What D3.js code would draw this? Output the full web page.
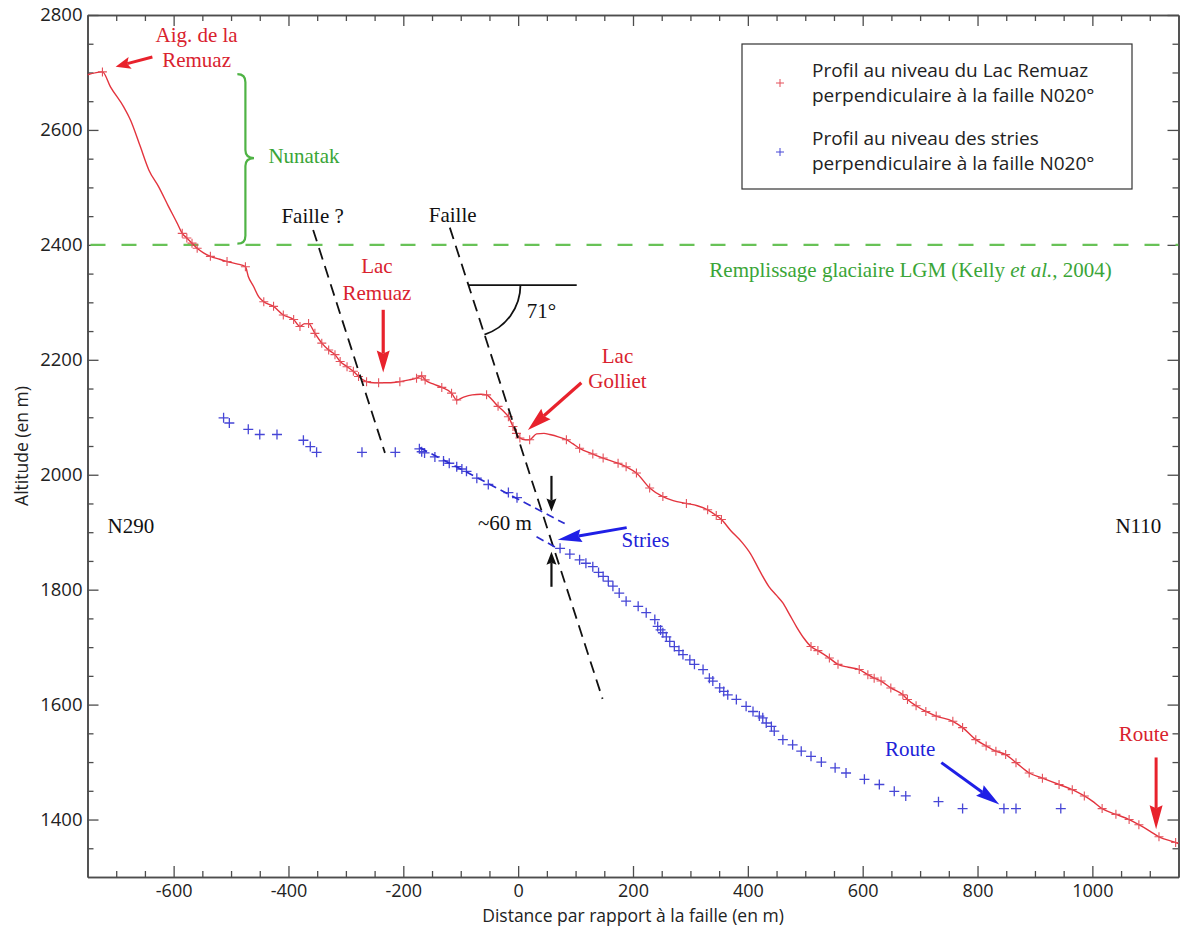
<!DOCTYPE html>
<html>
<head>
<meta charset="utf-8">
<script src="https://cdn.jsdelivr.net/npm/d3@7"></script>
<style>
  body { margin: 0; background: #fff; }
  svg { display: block; }
</style>
</head>
<body>
<svg id="chart" width="1180" height="929"></svg>
<script>
// Axis ticks
const xTicks = [-600, -400, -200, 0, 200, 400, 600, 800, 1000];
const yTicks = [1400, 1600, 1800, 2000, 2200, 2400, 2600, 2800];

// Profile across the fault at Lac Remuaz (distance to fault, altitude, surveyed point flag)
const redDistance = [-750, -724, -710, -687, -675, -658, -643, -626, -609, -594, -585, -577, -568, -559, -548, -536, -520, -507, -490, -475, -470, -461, -452, -443, -426, -409, -391, -380, -372, -365, -354, -342, -330, -319, -310, -298, -287, -278, -264, -252, -243, -225, -206, -190, -177, -168, -162, -148, -133, -116, -107, -95, -80, -65, -55, -45, -35, -25, -17, -9, -3, 3, 12, 20, 32, 45, 55, 70, 84, 95, 107, 130, 148, 174, 188, 206, 229, 252, 270, 293, 312, 330, 345, 354, 370, 391, 405, 420, 437, 450, 461, 472, 485, 498, 510, 522, 542, 557, 575, 594, 609, 620, 632, 649, 670, 678, 693, 710, 728, 757, 774, 797, 815, 832, 849, 867, 890, 913, 942, 965, 986, 1000, 1017, 1041, 1064, 1081, 1100, 1116, 1145, 1150];
const redAltitude = [2696, 2701, 2675, 2640, 2617, 2571, 2530, 2501, 2467, 2438, 2420, 2412, 2403, 2394, 2386, 2380, 2375, 2371, 2367, 2362, 2345, 2328, 2310, 2301, 2293, 2278, 2270, 2258, 2263, 2263, 2246, 2229, 2217, 2209, 2197, 2188, 2180, 2171, 2162, 2160, 2160, 2160, 2162, 2165, 2168, 2172, 2165, 2158, 2152, 2142, 2130, 2135, 2139, 2140, 2139, 2130, 2119, 2110, 2101, 2084, 2072, 2064, 2061, 2061, 2071, 2072, 2070, 2066, 2061, 2054, 2046, 2036, 2029, 2020, 2014, 2003, 1977, 1962, 1955, 1950, 1946, 1939, 1929, 1922, 1903, 1881, 1862, 1834, 1805, 1790, 1777, 1758, 1735, 1715, 1701, 1694, 1681, 1670, 1665, 1661, 1652, 1646, 1641, 1629, 1617, 1609, 1598, 1588, 1580, 1571, 1560, 1539, 1528, 1519, 1513, 1499, 1481, 1472, 1461, 1452, 1441, 1432, 1419, 1409, 1400, 1391, 1380, 1370, 1360, 1358];
const redSurveyed = [0, 1, 0, 0, 0, 0, 0, 0, 0, 0, 1, 1, 1, 1, 0, 1, 0, 1, 0, 1, 0, 0, 0, 1, 1, 1, 1, 1, 0, 1, 1, 1, 1, 1, 1, 1, 1, 1, 1, 0, 1, 0, 1, 0, 1, 1, 1, 0, 1, 1, 1, 0, 0, 0, 1, 0, 1, 0, 1, 1, 1, 1, 0, 1, 0, 0, 0, 0, 1, 0, 1, 1, 1, 1, 1, 1, 1, 1, 0, 1, 0, 1, 1, 1, 0, 0, 0, 0, 0, 0, 0, 0, 0, 0, 1, 1, 1, 1, 0, 1, 1, 1, 1, 1, 1, 1, 1, 1, 1, 1, 1, 1, 1, 1, 1, 1, 1, 1, 1, 1, 1, 0, 1, 1, 1, 1, 0, 1, 1, 0];

// Profile along the glacial striations
const blueDistance = [-513, -503, -470, -450, -420, -374, -362, -351, -272, -214, -172, -168, -163, -145, -130, -120, -107, -98, -90, -72, -52, -17, -2, 73, 90, 107, 118, 130, 140, 148, 157, 165, 176, 188, 209, 223, 238, 243, 248, 252, 258, 264, 272, 280, 287, 299, 307, 322, 333, 339, 351, 358, 365, 380, 397, 409, 420, 426, 432, 441, 446, 461, 478, 493, 510, 528, 552, 571, 603, 629, 655, 675, 732, 774, 846, 867, 945];
const blueAltitude = [2099, 2090, 2079, 2070, 2070, 2060, 2049, 2039, 2039, 2039, 2045, 2040, 2038, 2031, 2024, 2020, 2014, 2010, 2006, 1994, 1983, 1969, 1960, 1872, 1862, 1852, 1846, 1840, 1830, 1823, 1815, 1806, 1794, 1780, 1771, 1760, 1748, 1736, 1730, 1725, 1718, 1710, 1701, 1694, 1687, 1678, 1670, 1661, 1646, 1641, 1629, 1623, 1617, 1609, 1597, 1588, 1580, 1577, 1568, 1562, 1554, 1539, 1530, 1519, 1510, 1500, 1490, 1481, 1470, 1461, 1449, 1441, 1431, 1419, 1419, 1419, 1419];

const lgmFillAltitude = 2400;
const faultDipLabel = "71°";
const offsetLabel = "~60 m";

const svg = d3.select("#chart");
const x = d3.scaleLinear().domain([-750, 1150]).range([87.5, 1178.5]);
const y = d3.scaleLinear().domain([1300, 2800]).range([877, 15]);

const RED = "#e3343e", REDTXT = "#d9222e", BLUE = "#4646d6", BLUETXT = "#2222d8";
const GREEN = "#68c257", GREENTXT = "#3aa537", AXIS = "#4d4d4d";
const SERIF = "'Liberation Serif', 'Times New Roman', serif";
const SANS = "'Open Sans', 'Noto Sans', sans-serif";

svg.append("defs").append("clipPath").attr("id", "plot")
  .append("rect").attr("x", x(-750)).attr("y", y(2800))
  .attr("width", x(1150) - x(-750)).attr("height", y(1300) - y(2800));

// ---------- axes (ticks point inward, frame on four sides) ----------
const xMinor = d3.range(-700, 1150, 50).filter(v => v % 200 !== 0);
const yMinor = d3.range(1350, 2800, 50).filter(v => v % 200 !== 0);
const fmt = d => String(d);

function styleAxis(g) {
  g.select(".domain").attr("stroke", AXIS).attr("stroke-width", 1.6);
  g.selectAll(".tick line").attr("stroke", AXIS).attr("stroke-width", 1.3);
  g.selectAll(".tick text").attr("fill", "#222").style("font-family", SANS).style("font-size", "18.5px");
}

const axes = svg.append("g");
// bottom
axes.append("g").attr("transform", `translate(0,${y(1300)})`)
  .call(d3.axisBottom(x).tickValues(xMinor).tickSize(-6).tickSizeOuter(0).tickFormat(""))
  .call(styleAxis);
axes.append("g").attr("transform", `translate(0,${y(1300)})`)
  .call(d3.axisBottom(x).tickValues(xTicks).tickSize(-11).tickSizeOuter(0).tickPadding(7.5).tickFormat(fmt))
  .call(styleAxis)
  .call(g => g.selectAll(".tick text").style("font-size", "18px"));
// top
axes.append("g").attr("transform", `translate(0,${y(2800)})`)
  .call(d3.axisTop(x).tickValues(xMinor).tickSize(-6).tickSizeOuter(0).tickFormat(""))
  .call(styleAxis);
axes.append("g").attr("transform", `translate(0,${y(2800)})`)
  .call(d3.axisTop(x).tickValues(xTicks).tickSize(-11).tickSizeOuter(0).tickFormat(""))
  .call(styleAxis);
// left
axes.append("g").attr("transform", `translate(${x(-750)},0)`)
  .call(d3.axisLeft(y).tickValues(yMinor).tickSize(-6).tickSizeOuter(0).tickFormat(""))
  .call(styleAxis);
axes.append("g").attr("transform", `translate(${x(-750)},0)`)
  .call(d3.axisLeft(y).tickValues(yTicks).tickSize(-11).tickSizeOuter(0).tickPadding(5).tickFormat(fmt))
  .call(styleAxis);
// right
axes.append("g").attr("transform", `translate(${x(1150)},0)`)
  .call(d3.axisRight(y).tickValues(yMinor).tickSize(-6).tickSizeOuter(0).tickFormat(""))
  .call(styleAxis);
axes.append("g").attr("transform", `translate(${x(1150)},0)`)
  .call(d3.axisRight(y).tickValues(yTicks).tickSize(-11).tickSizeOuter(0).tickFormat(""))
  .call(styleAxis);

// axis titles
svg.append("text").attr("x", (x(-750) + x(1150)) / 2).attr("y", 922)
  .attr("text-anchor", "middle").attr("fill", "#222")
  .style("font-family", SANS).style("font-size", "17.5px")
  .text("Distance par rapport à la faille (en m)");
svg.append("text").attr("transform", `translate(28,${(y(2800) + y(1300)) / 2}) rotate(-90)`)
  .attr("text-anchor", "middle").attr("fill", "#222")
  .style("font-family", SANS).style("font-size", "17.5px")
  .text("Altitude (en m)");

// ---------- helpers ----------
function arrow(g, x1, y1, x2, y2, color, opt = {}) {
  const w = opt.width || 2.5, hl = opt.headLen || 18, hw = opt.headWidth || 12, notch = opt.notch ?? 3;
  const dx = x2 - x1, dy = y2 - y1, L = Math.hypot(dx, dy);
  const ux = dx / L, uy = dy / L, px = -uy, py = ux;
  const bx = x2 - ux * hl, by = y2 - uy * hl;
  g.append("line").attr("x1", x1).attr("y1", y1)
    .attr("x2", bx + ux * notch).attr("y2", by + uy * notch)
    .attr("stroke", color).attr("stroke-width", w);
  const p = d3.path();
  p.moveTo(x2, y2);
  p.lineTo(bx + px * hw / 2, by + py * hw / 2);
  p.lineTo(bx + ux * notch, by + uy * notch);
  p.lineTo(bx - px * hw / 2, by - py * hw / 2);
  p.closePath();
  g.append("path").attr("d", p.toString()).attr("fill", color);
}
function label(g, xp, yp, lines, color, anchor = "middle", lh = 26) {
  const t = g.append("text").attr("x", xp).attr("y", yp).attr("text-anchor", anchor)
    .attr("fill", color).style("font-family", SERIF).style("font-size", "21px");
  lines.forEach((s, i) => t.append("tspan").attr("x", xp).attr("dy", i ? lh : 0).text(s));
  return t;
}

const plot = svg.append("g").attr("clip-path", "url(#plot)");

// LGM glacial fill level
plot.append("line").attr("x1", x(-750)).attr("x2", x(1150))
  .attr("y1", y(lgmFillAltitude)).attr("y2", y(lgmFillAltitude))
  .attr("stroke", GREEN).attr("stroke-width", 2.2).attr("stroke-dasharray", "15,16")
  .attr("stroke-dashoffset", -3);

// faults
const ann = svg.append("g");
const faultQ = [[-357, 2426], [-232, 2038]];
const fault = [[-119, 2430], [147, 1610]];
[faultQ, fault].forEach(f => {
  ann.append("line").attr("x1", x(f[0][0])).attr("y1", y(f[0][1]))
    .attr("x2", x(f[1][0])).attr("y2", y(f[1][1]))
    .attr("stroke", "#111").attr("stroke-width", 1.8).attr("stroke-dasharray", "12,7");
});

// dip angle marker
{
  const vy = y(2330);
  const f0x = x(fault[0][0]), f0y = y(fault[0][1]), f1x = x(fault[1][0]), f1y = y(fault[1][1]);
  const vx = f0x + (vy - f0y) / (f1y - f0y) * (f1x - f0x);
  ann.append("line").attr("x1", vx).attr("y1", vy).attr("x2", x(102)).attr("y2", vy)
    .attr("stroke", "#111").attr("stroke-width", 1.8);
  const ang = Math.atan2(f1y - f0y, f1x - f0x), r = 52;
  const p = d3.path();
  p.moveTo(vx + r, vy);
  p.arc(vx, vy, r, 0, ang, false);
  ann.append("path").attr("d", p.toString()).attr("fill", "none")
    .attr("stroke", "#111").attr("stroke-width", 1.8);
  label(ann, x(15), y(2273), [faultDipLabel], "#111", "start");
}

// striation trend lines either side of the fault
[[[-171, 2047], [81, 1915]], [[32, 1892], [72, 1870]]].forEach(s => {
  ann.append("line").attr("x1", x(s[0][0])).attr("y1", y(s[0][1]))
    .attr("x2", x(s[1][0])).attr("y2", y(s[1][1]))
    .attr("stroke", "#2b2bd0").attr("stroke-width", 1.7).attr("stroke-dasharray", "8,5");
});

// ---------- data ----------
const red = redDistance.map((d, i) => ({ d, a: redAltitude[i], s: redSurveyed[i] }));
const blue = blueDistance.map((d, i) => ({ d, a: blueAltitude[i] }));

plot.append("path").datum(red)
  .attr("d", d3.line().x(p => x(p.d)).y(p => y(p.a)).curve(d3.curveMonotoneX))
  .attr("fill", "none").attr("stroke", RED).attr("stroke-width", 1.4);

const plus = h => `M${-h},0H${h}M0,${-h}V${h}`;
plot.selectAll(".rm").data(red.filter(p => p.s)).join("path")
  .attr("transform", p => `translate(${x(p.d)},${y(p.a)})`)
  .attr("d", plus(4.5)).attr("stroke", "#e4505a").attr("stroke-width", 1.1).attr("fill", "none");
plot.selectAll(".bm").data(blue).join("path")
  .attr("transform", p => `translate(${x(p.d)},${y(p.a)})`)
  .attr("d", plus(5)).attr("stroke", BLUE).attr("stroke-width", 1.3).attr("fill", "none");

// ---------- annotations ----------
// Aiguille de la Remuaz
label(ann, x(-560), y(2753), ["Aig. de la", "Remuaz"], REDTXT, "middle", 25);
arrow(ann, x(-637), y(2727), x(-701), y(2710), "#e8222c", { width: 3, headLen: 15, headWidth: 12 });

// Nunatak brace
{
  const bx = x(-475), top = y(2697), bot = y(2402), mid = y(2551), tipX = x(-460), endX = x(-489);
  const p = d3.path();
  p.moveTo(endX, top);
  p.quadraticCurveTo(bx, top, bx, top + 8);
  p.lineTo(bx, mid - 8);
  p.quadraticCurveTo(bx, mid, tipX, mid);
  p.quadraticCurveTo(bx, mid, bx, mid + 8);
  p.lineTo(bx, bot - 8);
  p.quadraticCurveTo(bx, bot, endX, bot);
  ann.append("path").attr("d", p.toString()).attr("fill", "none")
    .attr("stroke", "#4fb345").attr("stroke-width", 2.2);
  label(ann, x(-435), y(2543), ["Nunatak"], GREENTXT, "start");
}

// LGM label
{
  const t = ann.append("text").attr("x", x(333)).attr("y", y(2344)).attr("fill", GREENTXT)
    .style("font-family", SERIF).style("font-size", "21px");
  t.append("tspan").text("Remplissage glaciaire LGM (Kelly ");
  t.append("tspan").attr("font-style", "italic").text("et al.");
  t.append("tspan").text(", 2004)");
}

// fault labels
label(ann, x(-358), y(2438), ["Faille ?"], "#111");
label(ann, x(-114), y(2440), ["Faille"], "#111");

// Lac Remuaz
label(ann, x(-246), y(2351), ["Lac", "Remuaz"], REDTXT, "middle", 27);
arrow(ann, x(-235), y(2287), x(-235), y(2178), "#e8222c", { width: 3.2, headLen: 22, headWidth: 13 });

// Lac Golliet
label(ann, x(173), y(2195), ["Lac", "Golliet"], REDTXT, "middle", 25);
arrow(ann, x(110), y(2160), x(17), y(2078), "#e8222c", { width: 3.2, headLen: 24, headWidth: 14 });

// vertical offset
arrow(ann, x(58), y(1998), x(58), y(1936), "#111", { width: 2.2, headLen: 13, headWidth: 10, notch: 2 });
arrow(ann, x(58), y(1805), x(58), y(1866), "#111", { width: 2.2, headLen: 13, headWidth: 10, notch: 2 });
label(ann, x(24), y(1904), [offsetLabel], "#111", "end");

// Stries
label(ann, x(180), y(1875), ["Stries"], BLUETXT, "start");
arrow(ann, x(189), y(1908), x(69), y(1887), "#1f1fe6", { width: 3, headLen: 24, headWidth: 13 });

// orientations
label(ann, x(-715), y(1899), ["N290"], "#111", "start");
label(ann, x(1120), y(1899), ["N110"], "#111", "end");

// Route labels
label(ann, x(639), y(1510), ["Route"], BLUETXT, "start");
arrow(ann, x(737), y(1499), x(838), y(1426), "#1f1fe6", { width: 3, headLen: 24, headWidth: 13 });
label(ann, x(1046), y(1536), ["Route"], REDTXT, "start");
arrow(ann, x(1111), y(1508), x(1111), y(1383), "#e8222c", { width: 3, headLen: 24, headWidth: 13 });

// ---------- legend ----------
{
  const lg = svg.append("g");
  lg.append("rect").attr("x", 742).attr("y", 44).attr("width", 390).attr("height", 145)
    .attr("fill", "#fff").attr("stroke", "#333").attr("stroke-width", 1.2);
  const items = [
    { c: "#e4505a", lines: ["Profil au niveau du Lac Remuaz", "perpendiculaire à la faille N020°"], y0: 77, my: 83 },
    { c: BLUE, lines: ["Profil au niveau des stries", "perpendiculaire à la faille N020°"], y0: 145, my: 152 }
  ];
  items.forEach(it => {
    lg.append("path").attr("transform", `translate(780,${it.my})`).attr("d", plus(4))
      .attr("stroke", it.c).attr("stroke-width", 1).attr("fill", "none");
    const t = lg.append("text").attr("x", 812).attr("y", it.y0).attr("fill", "#222")
      .style("font-family", SANS).style("font-size", "19px");
    it.lines.forEach((s, i) => t.append("tspan").attr("x", 812).attr("dy", i ? 25 : 0).text(s));
  });
}
</script>
</body>
</html>
